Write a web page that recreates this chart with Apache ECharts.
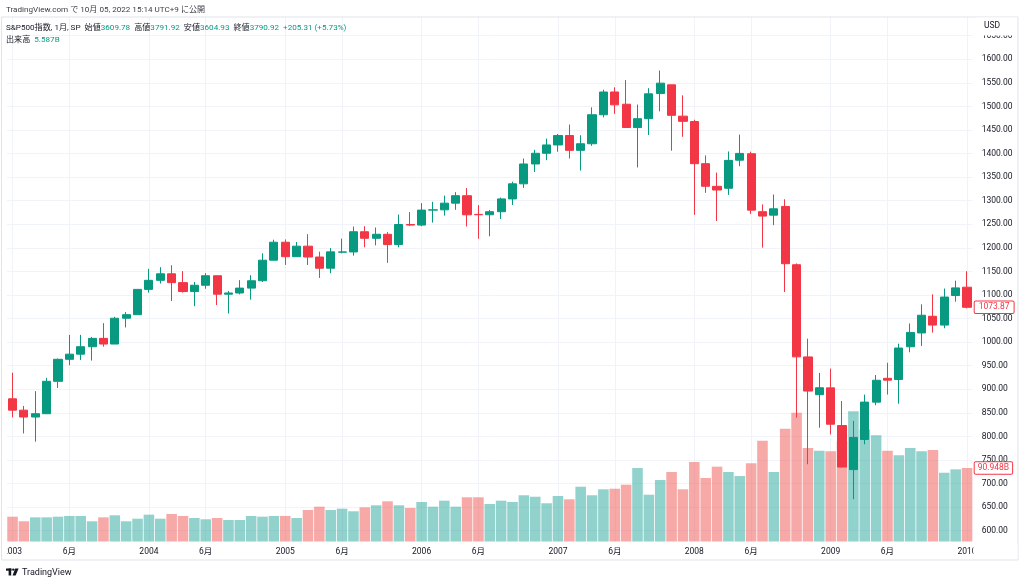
<!DOCTYPE html>
<html>
<head>
<meta charset="utf-8">
<script src="https://cdn.jsdelivr.net/npm/echarts@6/dist/echarts.min.js"></script>
<style>
html,body{margin:0;padding:0;background:#fff;}
#chart{width:1024px;height:584px;}
</style>
</head>
<body>
<div id="chart"></div>
<script>
// ---- Data (S&P500 monthly, Jan 2003 - Jan 2010) ----
const categories = [
 '2003-01','2003-02','2003-03','2003-04','2003-05','2003-06','2003-07','2003-08','2003-09','2003-10','2003-11','2003-12',
 '2004-01','2004-02','2004-03','2004-04','2004-05','2004-06','2004-07','2004-08','2004-09','2004-10','2004-11','2004-12',
 '2005-01','2005-02','2005-03','2005-04','2005-05','2005-06','2005-07','2005-08','2005-09','2005-10','2005-11','2005-12',
 '2006-01','2006-02','2006-03','2006-04','2006-05','2006-06','2006-07','2006-08','2006-09','2006-10','2006-11','2006-12',
 '2007-01','2007-02','2007-03','2007-04','2007-05','2007-06','2007-07','2007-08','2007-09','2007-10','2007-11','2007-12',
 '2008-01','2008-02','2008-03','2008-04','2008-05','2008-06','2008-07','2008-08','2008-09','2008-10','2008-11','2008-12',
 '2009-01','2009-02','2009-03','2009-04','2009-05','2009-06','2009-07','2009-08','2009-09','2009-10','2009-11','2009-12',
 '2010-01'
];
const opens = [
 879.82,855.70,841.15,848.18,916.92,963.59,974.50,990.31,1008.01,995.97,1050.71,1058.20,
 1111.92,1131.13,1144.94,1126.21,1107.30,1120.68,1140.84,1101.72,1104.24,1114.58,1130.20,1173.82,
 1211.92,1181.27,1203.60,1180.59,1156.85,1190.90,1191.33,1234.18,1220.33,1228.81,1207.01,1249.48,
 1248.29,1280.08,1280.66,1294.83,1310.61,1271.00,1270.20,1276.66,1303.82,1335.85,1377.94,1400.63,
 1418.30,1438.24,1406.82,1420.86,1482.37,1530.62,1504.66,1455.18,1473.99,1527.29,1545.79,1479.37,
 1467.97,1378.60,1330.45,1326.41,1385.97,1399.62,1276.69,1269.42,1287.83,1164.17,968.67,888.61,
 902.99,823.09,729.57,793.59,872.74,923.26,920.82,990.22,1019.52,1054.91,1036.18,1098.89,
 1116.56
];
const highs = [
 935.05,864.64,895.90,924.24,965.38,1015.33,1015.41,1011.01,1040.29,1053.79,1063.65,1112.56,
 1155.38,1158.98,1163.23,1150.57,1127.74,1146.34,1140.84,1108.60,1131.54,1142.05,1188.46,1217.33,
 1217.80,1212.44,1229.11,1191.88,1199.56,1219.59,1245.15,1245.86,1243.13,1233.34,1270.64,1275.80,
 1294.90,1297.57,1310.88,1318.16,1326.70,1290.68,1280.42,1306.74,1340.28,1389.45,1407.89,1431.81,
 1441.61,1461.57,1438.89,1498.02,1535.56,1540.56,1555.90,1503.89,1538.74,1576.09,1545.79,1523.57,
 1471.77,1396.02,1359.68,1404.47,1440.24,1404.05,1292.17,1313.15,1303.04,1167.03,1007.51,934.73,
 943.85,875.01,832.98,888.70,930.17,956.23,996.68,1039.47,1080.15,1101.36,1113.69,1130.38,
 1150.45
];
const lows = [
 840.34,806.29,788.90,847.85,902.83,951.02,962.10,960.84,990.36,995.97,1031.20,1058.20,
 1105.08,1124.44,1087.16,1105.10,1076.32,1113.32,1078.78,1060.72,1101.29,1090.19,1127.60,1173.76,
 1163.75,1180.95,1163.69,1136.15,1146.18,1188.30,1183.55,1201.07,1205.35,1168.20,1201.07,1246.59,
 1245.74,1253.61,1268.42,1280.74,1245.34,1219.29,1224.54,1261.30,1290.93,1327.10,1360.98,1385.93,
 1403.97,1389.42,1363.98,1416.37,1476.70,1484.18,1454.25,1370.60,1439.29,1489.56,1406.10,1435.65,
 1270.05,1316.75,1256.98,1312.31,1373.07,1272.00,1200.44,1248.16,1106.39,839.80,741.02,818.41,
 804.22,734.52,666.79,783.32,866.10,888.86,869.32,978.51,991.97,1020.18,1029.38,1085.89,
 1071.59
];
const closes = [
 855.70,841.15,848.18,916.92,963.59,974.50,990.31,1008.01,995.97,1050.71,1058.20,1111.92,
 1131.13,1144.94,1126.21,1107.30,1120.68,1140.84,1101.72,1104.24,1114.58,1130.20,1173.82,1211.92,
 1181.27,1203.60,1180.59,1156.85,1191.50,1191.33,1234.18,1220.33,1228.81,1207.01,1249.48,1248.29,
 1280.08,1280.66,1294.83,1310.61,1270.09,1270.20,1276.66,1303.82,1335.85,1377.94,1400.63,1418.30,
 1438.24,1406.82,1420.86,1482.37,1530.62,1503.35,1455.27,1473.99,1526.75,1549.38,1481.14,1468.36,
 1378.55,1330.63,1322.70,1385.59,1400.38,1280.00,1267.38,1282.83,1166.36,968.75,896.24,903.25,
 825.88,735.09,797.87,872.81,919.14,919.32,987.48,1020.62,1057.08,1036.19,1095.63,1115.10,
 1073.87
];
// monthly volume, billions
const volumes = [
 30.7,25.0,29.9,29.9,30.7,31.6,31.6,25.0,29.9,32.4,25.0,28.2,
 33.2,28.2,34.0,31.6,29.1,27.5,29.1,26.6,26.6,31.6,30.7,31.6,
 31.6,29.1,39.0,43.1,39.0,40.6,37.4,42.3,44.8,49.7,44.8,41.5,
 48.9,43.1,50.5,43.1,54.7,54.7,46.4,50.5,48.9,57.2,55.4,47.3,
 56.3,52.2,67.8,57.2,64.6,65.3,70.3,90.9,57.9,76.1,86.0,64.6,
 98.4,78.6,92.6,86.0,81.0,96.8,124.7,86.0,139.6,159.4,115.7,112.4,
 111.6,124.0,161.1,138.8,131.4,112.4,106.7,115.7,111.6,113.2,85.1,89.3,
 90.948
];
// tick labels
const xTickMonths = ['2003-01','2003-06','2004-01','2004-06','2005-01','2005-06','2006-01','2006-06','2007-01','2007-06','2008-01','2008-06','2009-01','2009-06','2010-01'];
const xTickLabels = ['2003','6月','2004','6月','2005','6月','2006','6月','2007','6月','2008','6月','2009','6月','2010'];
const yTicks = [600,650,700,750,800,850,900,950,1000,1050,1100,1150,1200,1250,1300,1350,1400,1450,1500,1550,1600,1650];
// header texts
const captionText = 'TradingView.com で 10月 05, 2022 15:14 UTC+9 に公開';
const legendTitle = 'S&P500指数, 1月, SP';
const legendNames = ['始値','高値','安値','終値'];
const legendValues = ['3609.78','3791.92','3604.93','3790.92'];
const legendChange = '+205.31 (+5.73%)';
const volumeName = '出来高';
const volumeValue = '5.587B';

// ---- Styling ----
const UP = '#089981', DOWN = '#f23645';
const UPV = 'rgba(38,166,154,0.5)', DOWNV = 'rgba(239,83,80,0.5)';
const FONT = 'Roboto, "Noto Sans CJK JP", sans-serif';
const GRIDC = '#f0f3fa';
const HF = 8.1;

const candleData = categories.map((c, i) => [opens[i], closes[i], lows[i], highs[i]]);
const xTickIdx = xTickMonths.map(m => categories.indexOf(m));
const lastIdx = categories.length - 1;

const chart = echarts.init(document.getElementById('chart'), null, {renderer: 'canvas'});

let legendRich = '{d|' + legendTitle + '}';
legendNames.forEach((n, i) => { legendRich += '  {d|' + n + '}{g|' + legendValues[i] + '}'; });
legendRich += '  {g|' + legendChange + '}';

const lastLabel = {
  show: true, position: 'end', distance: 2,
  color: DOWN, backgroundColor: '#fff', borderColor: DOWN, borderWidth: 1, borderRadius: 1,
  padding: [2, 4, 1, 4], fontSize: 8.5, fontFamily: FONT
};

const option = {
  animation: false,
  backgroundColor: '#ffffff',
  grid: {left: 5.8, right: 51.3, top: 17, bottom: 42.5, containLabel: false},
  xAxis: [
    {
      type: 'category', data: categories, boundaryGap: true,
      axisLine: {show: false}, axisTick: {show: false}, axisLabel: {show: false}, splitLine: {show: false}
    },
    {
      type: 'value', min: -0.5, max: categories.length - 0.5, position: 'bottom',
      axisLine: {show: false},
      axisTick: {show: false, customValues: xTickIdx},
      axisLabel: {
        customValues: xTickIdx, margin: 6, fontSize: 8.5, color: '#131722', fontFamily: FONT,
        formatter: v => xTickLabels[xTickIdx.indexOf(Math.round(v))] || ''
      },
      splitLine: {show: true, lineStyle: {color: GRIDC, width: 1}}
    }
  ],
  yAxis: [
    {
      type: 'value', position: 'right', min: 577.1, max: 1689.7,
      axisLine: {show: false},
      axisTick: {show: false, customValues: yTicks},
      axisLabel: {customValues: yTicks, margin: 9, fontSize: 8.5, color: '#131722', fontFamily: FONT,
        formatter: v => v.toFixed(2)},
      splitLine: {show: true, lineStyle: {color: GRIDC, width: 1}}
    },
    {
      type: 'value', min: 0, max: 649, show: false, splitLine: {show: false}
    }
  ],
  series: [
    {
      name: 'volume', type: 'bar', xAxisIndex: 0, yAxisIndex: 1, z: 1,
      data: volumes, barWidth: '93%',
      itemStyle: {color: p => closes[p.dataIndex] >= opens[p.dataIndex] ? UPV : DOWNV},
      markLine: {
        silent: true, symbol: 'none', animation: false, z: 10, precision: 3,
        lineStyle: {color: 'rgba(0,0,0,0)', width: 1, type: 'solid'},
        label: Object.assign({}, lastLabel, {formatter: p => Number(p.value).toFixed(3) + 'B', padding: [2, 3, 1, 3]}),
        data: [{yAxis: volumes[lastIdx]}]
      }
    },
    {
      name: 'S&P500', type: 'candlestick', xAxisIndex: 0, yAxisIndex: 0, z: 3,
      data: candleData, barWidth: '76%',
      itemStyle: {color: UP, color0: DOWN, borderColor: UP, borderColor0: DOWN, borderWidth: 1},
      markLine: {
        silent: true, symbol: 'none', animation: false, z: 10, precision: 2,
        lineStyle: {color: 'rgba(0,0,0,0)', width: 1, type: 'solid'},
        label: Object.assign({}, lastLabel, {formatter: p => Number(p.value).toFixed(2)}),
        data: [{yAxis: closes[lastIdx]}]
      }
    }
  ],
  graphic: [
    {type: 'rect', z: 90, shape: {x: 1.5, y: 17, width: 1016.5, height: 543}, style: {fill: 'none', stroke: '#e0e3eb', lineWidth: 1}},
    {type: 'rect', z: 100, shape: {x: 975, y: 17.5, width: 42, height: 18}, style: {fill: '#fff'}},
    {type: 'text', z: 101, x: 984, y: 26, style: {text: 'USD', fontSize: 8.5, fill: '#131722', fontFamily: FONT, verticalAlign: 'middle'}},
    {type: 'rect', z: 100, shape: {x: 2, y: 544, width: 5, height: 14}, style: {fill: '#fff'}},
    {type: 'rect', z: 100, shape: {x: 973.5, y: 544, width: 44, height: 14}, style: {fill: '#fff'}},
    {type: 'text', z: 100, x: 6, y: 10, style: {text: captionText, fontSize: HF, fill: '#3b3e48', fontFamily: FONT, verticalAlign: 'middle'}},
    {type: 'text', z: 100, x: 6, y: 27.5, style: {
      text: legendRich, fontSize: HF, fontFamily: FONT, verticalAlign: 'middle',
      rich: {d: {fill: '#131722', fontSize: HF, fontFamily: FONT}, g: {fill: UP, fontSize: HF, fontFamily: FONT}}
    }},
    {type: 'text', z: 100, x: 6, y: 39.5, style: {
      text: '{d|' + volumeName + '}  {g|' + volumeValue + '}', fontSize: HF, fontFamily: FONT, verticalAlign: 'middle',
      rich: {d: {fill: '#131722', fontSize: HF, fontFamily: FONT}, g: {fill: UP, fontSize: HF, fontFamily: FONT}}
    }},
    // TradingView logo
    {type: 'group', z: 100, children: [
      {type: 'rect', shape: {x: 6, y: 568.5, width: 5.5, height: 2.2}, style: {fill: '#131722'}},
      {type: 'rect', shape: {x: 8.6, y: 568.5, width: 2.6, height: 7}, style: {fill: '#131722'}},
      {type: 'circle', shape: {cx: 13.3, cy: 569.6, r: 1.2}, style: {fill: '#131722'}},
      {type: 'polygon', shape: {points: [[15.2, 568.5], [18.6, 568.5], [15.6, 575.5], [12.6, 575.5]]}, style: {fill: '#131722'}}
    ]},
    {type: 'text', z: 100, x: 22, y: 572.5, style: {text: 'TradingView', fontSize: 9, fill: '#131722', fontFamily: FONT, verticalAlign: 'middle'}}
  ]
};
chart.setOption(option);
</script>
</body>
</html>
